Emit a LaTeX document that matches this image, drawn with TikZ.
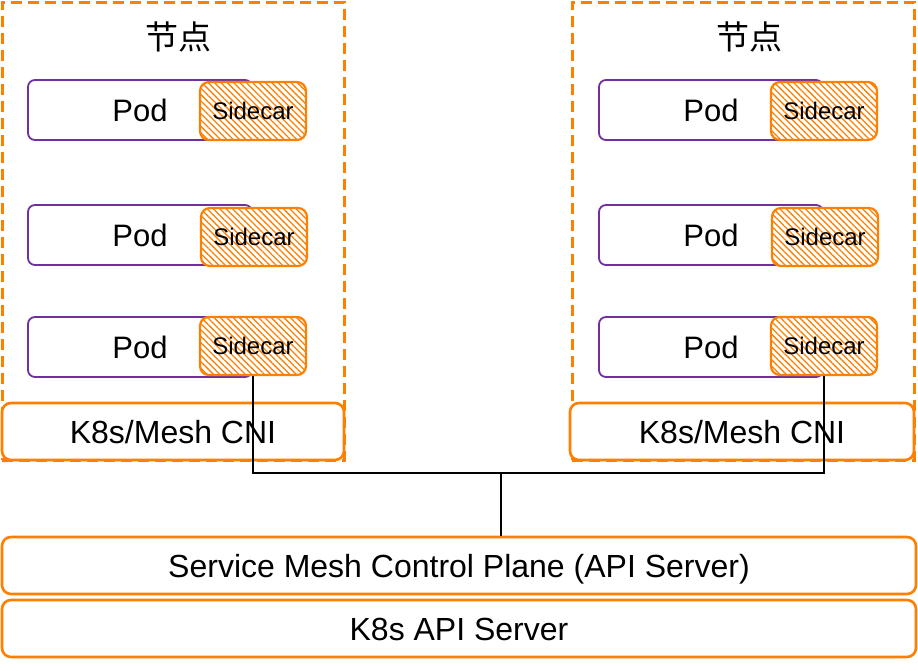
\documentclass[tikz,border=0pt]{standalone}
\usepackage{fontspec}
\usepackage{tikz}
\usetikzlibrary{patterns.meta}
\setmainfont{Liberation Sans}
\newfontfamily\cjk{Noto Sans CJK SC}
\definecolor{meshorange}{RGB}{255,128,0}
\definecolor{podpurple}{RGB}{112,48,160}
\newcommand{\bigtext}{\fontsize{31}{36}\selectfont}
\newcommand{\layertext}{\fontsize{32}{36}\selectfont}
\newcommand{\smalltext}{\fontsize{24}{28}\selectfont}

\begin{document}
\begin{tikzpicture}[
    x=1pt, y=-1pt,
    nodebox/.style={rectangle, draw=meshorange, dash pattern=on 11pt off 6pt, line width=3pt, minimum width=342pt, minimum height=458pt},
    title/.style={font=\cjk\fontsize{33}{36}\selectfont},
    pod/.style={rectangle, draw=podpurple, line width=1.8pt, rounded corners=7pt, minimum width=224pt, minimum height=60pt, font=\bigtext, text height=22pt, text depth=0pt},
    sidecar/.style={rectangle, draw=meshorange, line width=2.2pt, rounded corners=9pt, minimum width=106pt, minimum height=58pt, preaction={fill=white}, pattern={Lines[angle=-45, distance=4.5pt, line width=1.3pt]}, pattern color=meshorange, font=\smalltext, text height=17pt, text depth=0pt},
    layer/.style={rectangle, draw=meshorange, line width=2.6pt, rounded corners=9pt, fill=white, minimum height=57pt, font=\layertext, text height=23pt, text depth=0pt},
    link/.style={draw=black, line width=2.8pt}
]
\useasboundingbox (0,0) rectangle (918,670);

% Left node
\node[nodebox] (node_left) at (173,231) {};
\node[title] (title_left) at (178,37) {节点};

\node[pod] (pod_l1) at (140,110) {Pod};
\node[sidecar] (sidecar_l1) at (253,111) {Sidecar};
\node[pod] (pod_l2) at (140,235) {Pod};
\node[sidecar] (sidecar_l2) at (254,237) {Sidecar};
\node[pod] (pod_l3) at (140,347) {Pod};
\node[sidecar] (sidecar_l3) at (253,346) {Sidecar};

\node[layer, minimum width=342pt] (cni_left) at (173,431.5) {K8s/Mesh CNI};

% Right node
\node[nodebox] (node_right) at (743,231) {};
\node[title] (title_right) at (749,37) {节点};

\node[pod] (pod_r1) at (711,110) {Pod};
\node[sidecar] (sidecar_r1) at (824,111) {Sidecar};
\node[pod] (pod_r2) at (711,235) {Pod};
\node[sidecar] (sidecar_r2) at (825,237) {Sidecar};
\node[pod] (pod_r3) at (711,347) {Pod};
\node[sidecar] (sidecar_r3) at (824,346) {Sidecar};

\node[layer, minimum width=344pt] (cni_right) at (742,431.5) {K8s/Mesh CNI};

% Control plane and API server
\node[layer, minimum width=914pt] (control_plane) at (459,565.5) {Service Mesh Control Plane (API Server)};
\node[layer, minimum width=914pt] (api_server) at (459,628.5) {K8s API Server};

% Sidecar links
\coordinate (bus_mid) at (501,473);
\draw[link] (sidecar_l3.south) |- (bus_mid) -| (sidecar_r3.south);
\draw[link] (bus_mid) -- (bus_mid |- control_plane.north);

\end{tikzpicture}
\end{document}
